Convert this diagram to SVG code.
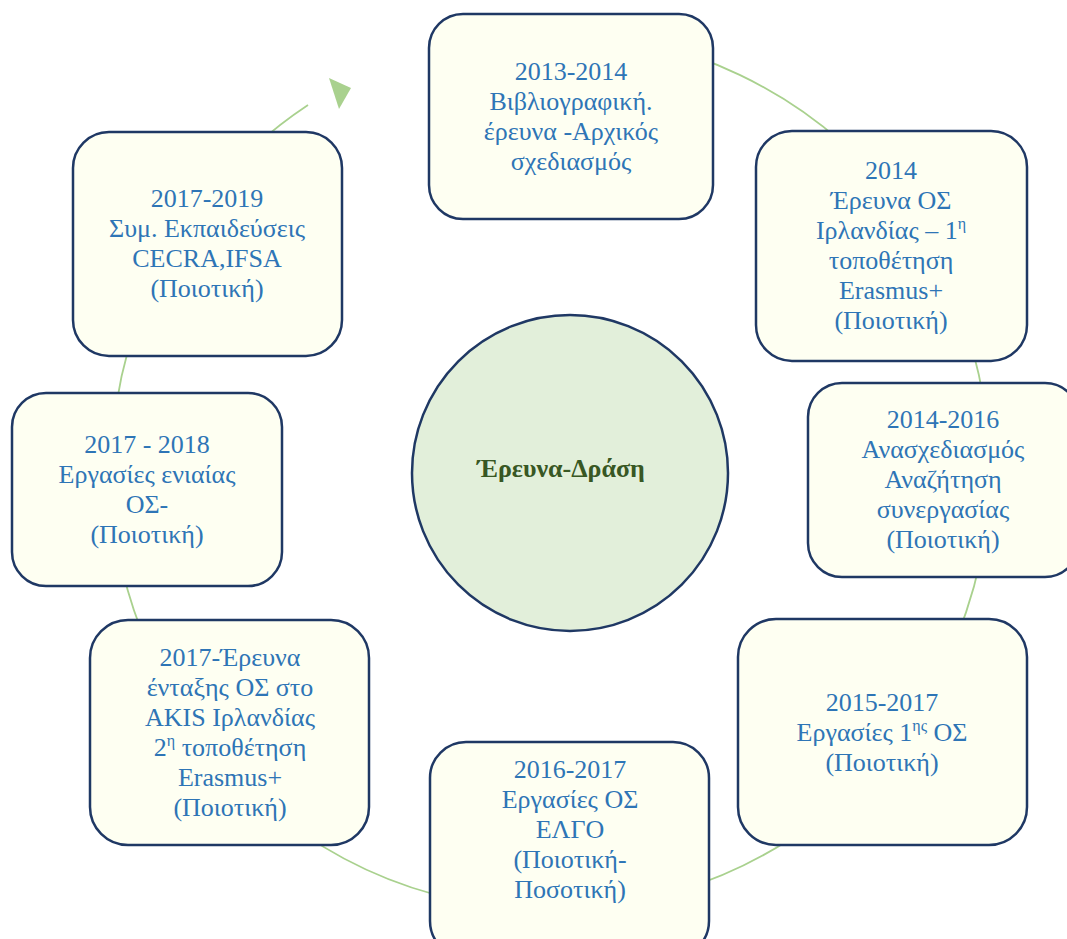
<svg xmlns="http://www.w3.org/2000/svg" width="1067" height="939" viewBox="0 0 1067 939">
<style>
.box{fill:#FEFFF2;stroke:#1F3864;stroke-width:2.5}
.t{font-family:"Liberation Serif","Times New Roman",serif;font-size:26px;fill:#2E75B6;text-anchor:middle}
.sup{font-size:16px}
.conn{fill:none;stroke:#A9D18E;stroke-width:1.8}
.center{fill:#E2EFDA;stroke:#1F3864;stroke-width:2.5}
.ct{font-family:"Liberation Serif","Times New Roman",serif;font-size:26px;font-weight:bold;fill:#385723;text-anchor:middle}
</style>
<rect width="1067" height="939" fill="#FFFFFF"/>
<g id="connectors">
<path class="conn" d="M 550 32 A 439 439 0 1 1 308 105"/>
<polygon points="329,78 351,88 339,109" fill="#A9D18E"/>
</g>
<g id="center">
<circle class="center" cx="570" cy="473" r="158"/>
<text class="ct" x="561" y="477">Έρευνα-Δράση</text>
</g>
<g id="n1">
<rect class="box" x="429" y="14" width="284" height="205" rx="34"/>
<text class="t" x="571" y="80">2013-2014<tspan x="571" dy="30">Βιβλιογραφική.</tspan><tspan x="571" dy="30">έρευνα -Αρχικός</tspan><tspan x="571" dy="30">σχεδιασμός</tspan></text>
</g>
<g id="n2">
<rect class="box" x="756" y="131" width="271" height="230" rx="36"/>
<text class="t" x="891" y="179">2014<tspan x="891" dy="30">Έρευνα ΟΣ</tspan><tspan x="891" dy="30">Ιρλανδίας – 1<tspan class="sup" dy="-10">η</tspan></tspan><tspan x="891" dy="40">τοποθέτηση</tspan><tspan x="891" dy="30">Erasmus+</tspan><tspan x="891" dy="30">(Ποιοτική)</tspan></text>
</g>
<g id="n3">
<rect class="box" x="808" y="383" width="271" height="194" rx="34"/>
<text class="t" x="943" y="428">2014-2016<tspan x="943" dy="30">Ανασχεδιασμός</tspan><tspan x="943" dy="30">Αναζήτηση</tspan><tspan x="943" dy="30">συνεργασίας</tspan><tspan x="943" dy="30">(Ποιοτική)</tspan></text>
</g>
<g id="n4">
<rect class="box" x="738" y="619" width="289" height="226" rx="38"/>
<text class="t" x="882" y="711">2015-2017<tspan x="882" dy="30">Εργασίες 1<tspan class="sup" dy="-10">ης</tspan><tspan dy="10"> ΟΣ</tspan></tspan><tspan x="882" dy="30">(Ποιοτική)</tspan></text>
</g>
<g id="n5">
<rect class="box" x="430" y="742" width="279" height="215" rx="36"/>
<text class="t" x="570" y="778">2016-2017<tspan x="570" dy="30">Εργασίες ΟΣ</tspan><tspan x="570" dy="30">ΕΛΓΟ</tspan><tspan x="570" dy="30">(Ποιοτική-</tspan><tspan x="570" dy="30">Ποσοτική)</tspan></text>
</g>
<g id="n6">
<rect class="box" x="90" y="620" width="279" height="225" rx="38"/>
<text class="t" x="230" y="666">2017-Έρευνα<tspan x="230" dy="30">ένταξης ΟΣ στο</tspan><tspan x="230" dy="30">AKIS Ιρλανδίας</tspan><tspan x="230" dy="30">2<tspan class="sup" dy="-10">η</tspan><tspan dy="10"> τοποθέτηση</tspan></tspan><tspan x="230" dy="30">Erasmus+</tspan><tspan x="230" dy="30">(Ποιοτική)</tspan></text>
</g>
<g id="n7">
<rect class="box" x="12" y="393" width="270" height="193" rx="34"/>
<text class="t" x="147" y="453">2017 - 2018<tspan x="147" dy="30">Εργασίες ενιαίας</tspan><tspan x="147" dy="30">ΟΣ-</tspan><tspan x="147" dy="30">(Ποιοτική)</tspan></text>
</g>
<g id="n8">
<rect class="box" x="73" y="132" width="269" height="224" rx="36"/>
<text class="t" x="207" y="207">2017-2019<tspan x="207" dy="30">Συμ. Εκπαιδεύσεις</tspan><tspan x="207" dy="30">CECRA,IFSA</tspan><tspan x="207" dy="30">(Ποιοτική)</tspan></text>
</g>
</svg>
